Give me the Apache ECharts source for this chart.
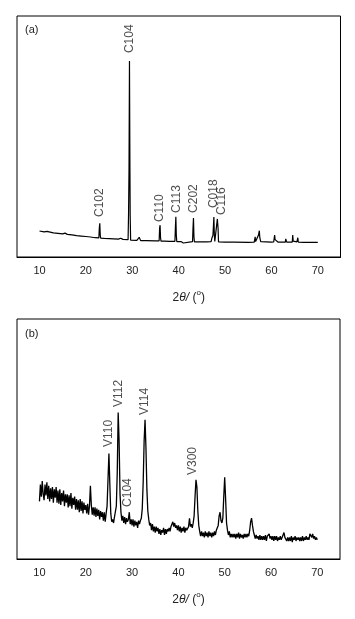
<!DOCTYPE html>
<html>
<head>
<meta charset="utf-8">
<script src="https://cdn.jsdelivr.net/npm/echarts@6/dist/echarts.min.js"></script>
<style>
html,body{margin:0;padding:0;background:#fff;}
#chart{width:355px;height:619px;}
</style>
</head>
<body>
<div id="chart"></div>
<script>
// ---- data ----
const xTicks = [10, 20, 30, 40, 50, 60, 70];
const panelTags = ['(a)', '(b)'];

// panel (a): 2theta / intensity pairs
const aTheta = [10,11,11.6,12,13,14,15,15.5,16,17,18,19,20,21,22,22.8,22.9,23.0,23.1,23.2,24,25,26,27,27.5,28,29.1,29.2,29.3,29.4,29.5,29.55,29.65,30,31,31.4,31.5,31.6,31.8,33,35,35.8,35.9,36.0,36.1,36.2,37,38,39.2,39.3,39.4,39.5,39.6,40.5,41,41.2,43,43.1,43.2,43.3,43.4,44.5,46,47.0,47.2,47.4,47.6,47.7,47.8,48.2,48.35,48.5,48.6,49,50,52,55,56.3,56.5,56.6,57.0,57.2,57.4,57.5,57.7,58,60,60.5,60.7,60.8,61.0,61.2,61.4,62,63,63.1,63.3,64.5,64.6,64.7,65,65.5,65.7,65.8,67,69.0,69.1,69.2,70];
const aIntensity = [10.8,10.4,10.6,10.2,10,9.8,9.6,9.9,9.4,9.2,8.9,8.7,8.5,8.3,8.0,7.9,12,14,9,7.8,7.7,7.6,7.5,7.4,7.8,7.3,7.2,17.5,36,81.3,36,17.5,7.0,7.0,6.9,6.9,8.2,7.5,6.8,6.8,6.7,6.7,12,13.2,8,6.6,6.6,6.5,6.5,12,16.7,9,6.4,6.4,5.8,6.4,6.4,12,16.2,8.5,6.3,6.3,6.3,6.4,8,9,16.6,9,6.5,6.3,15.8,12,6.3,6.2,6.2,6.2,6.1,6.2,8.4,6.4,6.5,9,10.9,8,6.4,6.2,6.2,6.3,9.1,7.2,7.8,7,6.2,6.2,6.2,7.5,6.2,6.2,9.1,6.6,6.2,6.3,8,6.2,6.1,6.1,6.6,6.1,6.1];
const aPeakNames = ['C102','C104','C110','C113','C202','C018','C116'];
const aPeakTheta = [22.9, 29.4, 35.9, 39.5, 43.2, 47.5, 49.2];
const aLabelBase = [16.6, 84.6, 14.5, 18.3, 18.3, 20.3, 17.4];

// panel (b): intensity sampled every 0.2 deg from 10 to 70
const bStart = 10, bStep = 0.2;
const bIntensity = [
24,31,26,32.5,27,24.5,31,26.5,32,25,
30.5,24,29.5,25,30,23.5,29,25.5,30,23.5,
28.5,23,29,22.5,27.5,24,28.5,22,27,23.5,
27,21.5,26.5,22,27.5,21,25.5,22.5,26,20.5,
25,20.5,24.5,19.5,25,20,24,19,23.5,20.5,
22.5,19,23,18.5,22,30.5,22.5,18.5,21.5,18,
21.5,17.5,21,18,20.5,16.5,20,17.5,19.5,16,
19.5,15.5,19,22,33,44,31,19,15.5,16.5,
15,17.5,18,22,36,61,49,27,19.5,16,
18,15,17.5,14.5,17,15.5,16.5,19.5,14.5,16.5,
14,16.5,13.5,16,14,15.5,13,16,14.5,16,
17,21,32,49,58,46,29,20,16.5,14,
15,12,14.5,11.5,13.5,11,13.5,11.5,13,10.5,
12.5,10,12,11,13,10,12.5,10.5,12.5,11.5,
13,11.5,13.5,14.5,15.5,13.5,15,13,14,12,
14,11.5,13.5,11,13,11.5,13.5,11,13,12,
11.5,13.5,17,13.5,14.5,13,15,18,26,33,
30,20,14,11.5,9.5,11.5,9.5,11,9,11.5,
9.5,11,9,11.5,9.5,11,9,11,9.5,11.5,
10,12,11.5,14,18,19.5,16,15,17,26,
34,25,15,12,10,11.5,9,10.5,9,10.5,
9,10.5,8.5,10.5,9,11,8.5,10.5,9,10,
8.5,10.5,9,10.5,9,10.5,9.5,12,15.5,17,
14,11.5,10,8.5,10,8.5,9.5,8,10,8,
9.5,8,9.5,8,10,7.5,9.5,9,10.5,8.5,
9.5,8,9.5,7.5,9.5,8,9.5,7.5,9,8,
9.5,8,9,10,11,9,9.5,7.5,9,7.5,
9,7.5,9.5,7,9,8,9.5,7.5,9,8,
9,7.5,9,7.5,9.5,7.5,9,8,9.5,8,
9,8,10.5,11,9,10.5,8.5,9.5,8,9,
8
];
const bPeakNames = ['V110','V112','C104','V114','V300'];
const bPeakTheta = [24.9, 27.2, 29.0, 32.8, 43.0];
const bLabelBase = [46.7, 63.3, 21.7, 60.0, 35.0];

// ---- build ----
const aSeries = aTheta.map((t, i) => [t, aIntensity[i]]);
const bSeries = bIntensity.map((v, i) => [+(bStart + i * bStep).toFixed(2), v]);
const aLabels = aPeakNames.map((n, i) => [aPeakTheta[i], aLabelBase[i], n]);
const bLabels = bPeakNames.map((n, i) => [bPeakTheta[i], bLabelBase[i], n]);

const FONT = 'Liberation Sans, Arial, sans-serif';
const TXT = '#222';

function xAxisFor(gridIndex, gap) {
  return {
    type: 'value', gridIndex: gridIndex, min: 5.15, max: 74.9,
    axisLine: {show: true, lineStyle: {color: '#000', width: 1}},
    axisTick: {show: false},
    splitLine: {show: false},
    axisLabel: {customValues: xTicks, color: TXT, fontSize: 11, fontFamily: FONT, margin: 8},
    name: '{n|2}{i|θ/}{n| (}{s|o}{n|)}',
    nameLocation: 'middle', nameGap: gap,
    nameTextStyle: {
      padding: [0, 0, 0, 20],
      rich: {
        n: {fontSize: 12, fontFamily: FONT, color: TXT},
        i: {fontSize: 12, fontFamily: FONT, fontStyle: 'italic', color: TXT},
        s: {fontSize: 8, fontFamily: FONT, color: TXT, padding: [0, 0, 9, 0]}
      }
    }
  };
}
function yAxisFor(gridIndex) {
  return {type: 'value', gridIndex: gridIndex, min: 0, max: 100, show: false};
}
function labelSeries(idx, data) {
  return {
    type: 'scatter', xAxisIndex: idx, yAxisIndex: idx, data: data,
    symbolSize: 0, silent: true, animation: false,
    label: {
      show: true, formatter: p => p.data[2], rotate: 90, position: [0, 0],
      align: 'left', verticalAlign: 'middle',
      fontSize: 12, fontFamily: FONT, color: TXT
    }
  };
}

const chart = echarts.init(document.getElementById('chart'), null, {renderer: 'canvas'});
chart.setOption({
  animation: false,
  backgroundColor: '#fff',
  title: [
    {text: panelTags[0], left: 20, top: 19, textStyle: {fontSize: 11, fontWeight: 'normal', color: TXT, fontFamily: FONT}},
    {text: panelTags[1], left: 20, top: 323, textStyle: {fontSize: 11, fontWeight: 'normal', color: TXT, fontFamily: FONT}}
  ],
  grid: [
    {left: 17, right: 14.5, top: 16, height: 241, show: true, borderColor: '#000', borderWidth: 1, backgroundColor: 'transparent'},
    {left: 17, right: 15, top: 319, height: 240, show: true, borderColor: '#000', borderWidth: 1, backgroundColor: 'transparent'}
  ],
  xAxis: [xAxisFor(0, 32), xAxisFor(1, 32)],
  yAxis: [yAxisFor(0), yAxisFor(1)],
  series: [
    {type: 'line', xAxisIndex: 0, yAxisIndex: 0, data: aSeries, showSymbol: false, symbol: 'none',
     lineStyle: {color: '#000', width: 1.2}, silent: true},
    {type: 'line', xAxisIndex: 1, yAxisIndex: 1, data: bSeries, showSymbol: false, symbol: 'none',
     lineStyle: {color: '#000', width: 1.3}, silent: true},
    labelSeries(0, aLabels),
    labelSeries(1, bLabels)
  ]
});
</script>
</body>
</html>
